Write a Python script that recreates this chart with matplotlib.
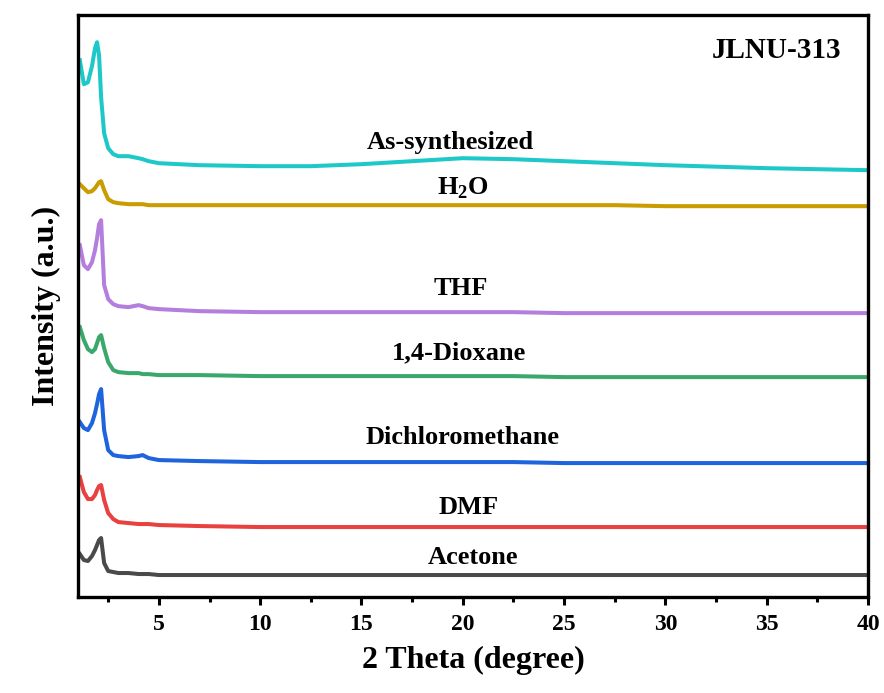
"""Stacked PXRD patterns of JLNU-313 after solvent treatment."""

import matplotlib
matplotlib.use("Agg")
import matplotlib.pyplot as plt

plt.rcParams["font.family"] = ["Liberation Serif", "DejaVu Serif"]
plt.rcParams["font.weight"] = "bold"
plt.rcParams["mathtext.fontset"] = "custom"
plt.rcParams["mathtext.rm"] = "Liberation Serif:bold"
plt.rcParams["mathtext.bf"] = "Liberation Serif:bold"

# 2 theta sampling (degree)
two_theta = [1.1, 1.3, 1.5, 1.7, 1.85, 1.95, 2.05, 2.15, 2.3, 2.5, 2.75, 3.0, 3.5,
             4.0, 4.2, 4.5, 5, 7, 10, 12.5, 15, 17.5, 20, 22.5, 25, 27.5, 30, 35, 40]

# intensities (a.u., already offset for stacking)
as_synthesized = [537, 513, 515, 531, 549, 555, 542, 500, 464, 449, 443, 441, 441,
                  439, 438, 436, 434, 432, 431, 431, 433, 436, 439, 438, 436, 434, 432, 429, 427]
water = [413, 409, 405, 406, 409, 412, 415, 416, 407, 398, 395, 394, 393,
         393, 393, 392, 392, 392, 392, 392, 392, 392, 392, 392, 392, 392, 391, 391, 391]
thf = [352, 332, 328, 335, 347, 359, 373, 377, 312, 298, 293, 291, 290,
       292, 291, 289, 288, 286, 285, 285, 285, 285, 285, 285, 284, 284, 284, 284, 284]
dioxane = [270, 257, 248, 245, 248, 254, 260, 262, 249, 235, 227, 225, 224,
           224, 223, 223, 222, 222, 221, 221, 221, 221, 221, 221, 220, 220, 220, 220, 220]
dichloromethane = [175, 169, 167, 174, 184, 193, 203, 208, 167, 147, 142, 141, 140,
                   141, 142, 139, 137, 136, 135, 135, 135, 135, 135, 135, 134, 134, 134, 134, 134]
dmf = [120, 105, 98, 98, 102, 107, 111, 112, 97, 84, 78, 75, 74,
       73, 73, 73, 72, 71, 70, 70, 70, 70, 70, 70, 70, 70, 70, 70, 70]
acetone = [43, 37, 36, 41, 47, 52, 57, 59, 34, 26, 25, 24, 24,
           23, 23, 23, 22, 22, 22, 22, 22, 22, 22, 22, 22, 22, 22, 22, 22]

labels = ["As-synthesized", r"H$_{\mathbf{2}}$O", "THF", "1,4-Dioxane",
          "Dichloromethane", "DMF", "Acetone"]
series = [as_synthesized, water, thf, dioxane, dichloromethane, dmf, acetone]
colors = ["#1ec8c8", "#c99d00", "#b47ede", "#3aa86b", "#1e64dc", "#e8413f", "#4a4a4a"]
label_pos = [(19.4, 455), (20.0, 409), (19.9, 309), (19.8, 244),
             (20.0, 160), (20.3, 90), (20.5, 40)]

fig = plt.figure(figsize=(8.84, 6.93), dpi=100)
ax = fig.add_axes([0.088, 0.1385, 0.894, 0.8395])

for y, c, lab, (lx, ly) in zip(series, colors, labels, label_pos):
    ax.plot(two_theta, y, color=c, lw=2.9, solid_joinstyle="round")
    ax.text(lx, ly, lab, ha="center", va="center", fontsize=19, fontweight="bold")

ax.text(35.5, 547, "JLNU-313", ha="center", va="center", fontsize=21, fontweight="bold")

ax.set_xlim(1, 40)
ax.set_ylim(0, 582)
ax.set_xticks([5, 10, 15, 20, 25, 30, 35, 40])
ax.set_xticks([2.5, 7.5, 12.5, 17.5, 22.5, 27.5, 32.5, 37.5], minor=True)
ax.set_yticks([])
ax.tick_params(axis="x", which="major", length=6, width=2.2, labelsize=17, pad=6)
ax.tick_params(axis="x", which="minor", length=3.5, width=2.2)
for s in ax.spines.values():
    s.set_linewidth(2.4)

ax.set_xlabel("2 Theta (degree)", fontsize=23, fontweight="bold", labelpad=8)
ax.set_ylabel("Intensity (a.u.)", fontsize=23, fontweight="bold", labelpad=12)

fig.savefig("out.png", dpi=100)
